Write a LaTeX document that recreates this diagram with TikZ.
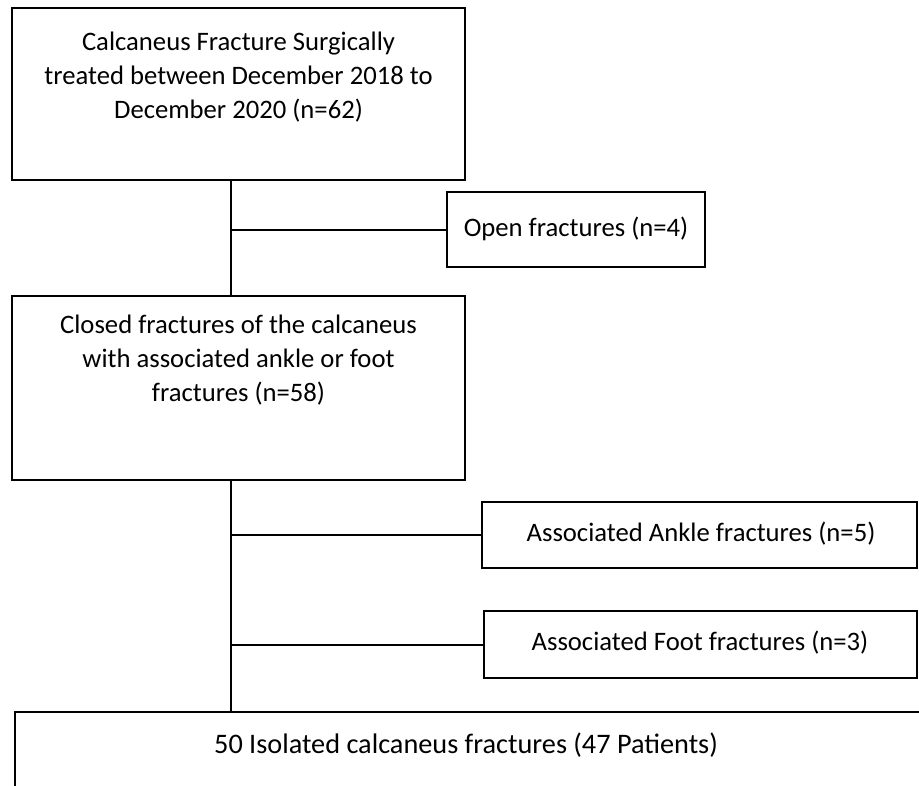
\documentclass[tikz,border=0pt]{standalone}
\usepackage{fontspec}
\setmainfont{Carlito}
\usetikzlibrary{fit}
\begin{document}
\begin{tikzpicture}[x=0.75pt,y=-0.75pt,
  box/.style={draw=black, line width=1.6pt, inner sep=0pt, rectangle},
  thickbox/.style={box, line width=2.2pt},
  txt/.style={align=center, inner sep=0pt, font=\fontsize{20}{25.8}\selectfont},
  bigtxt/.style={txt, font=\fontsize{21.2}{26}\selectfont},
  conn/.style={draw=black, line width=1.5pt}]
\useasboundingbox (0,0) rectangle (919,785);
\fill[white] (0,0) rectangle (919,785);
\clip (0,0) rectangle (919,785);
\coordinate (j) at (231,0);
\node[thickbox, fit={(12,8) (465,180)}] (b1) {};
\node[txt] (t1) at (238.5,77) {Calcaneus Fracture Surgically\\treated between December 2018 to\\December 2020 (n=62)};
\node[box, fit={(447,192) (705,267)}] (open) {};
\node[txt] (t2) at (576,229) {Open fractures (n=4)};
\node[box, fit={(12,296) (465,480)}] (b2) {};
\node[txt] (t3) at (238.5,360) {Closed fractures of the calcaneus\\with associated ankle or foot\\fractures (n=58)};
\node[box, fit={(482,502) (917,568)}] (ankle) {};
\node[txt] (t4) at (701,534) {Associated Ankle fractures (n=5)};
\node[box, fit={(484,611) (917,678)}] (foot) {};
\node[txt] (t5) at (700,643) {Associated Foot fractures (n=3)};
\node[box, fit={(15,712) (940,820)}] (b3) {};
\node[bigtxt] (t6) at (466,745) {50 Isolated calcaneus fractures (47 Patients)};
\draw[conn] (b1.south -| j) -- (b2.north -| j);
\draw[conn] (b2.south -| j) -- (b3.north -| j);
\draw[conn] (open.west -| j) -- (open.west);
\draw[conn] (ankle.west -| j) -- (ankle.west);
\draw[conn] (foot.west -| j) -- (foot.west);
\end{tikzpicture}
\end{document}
